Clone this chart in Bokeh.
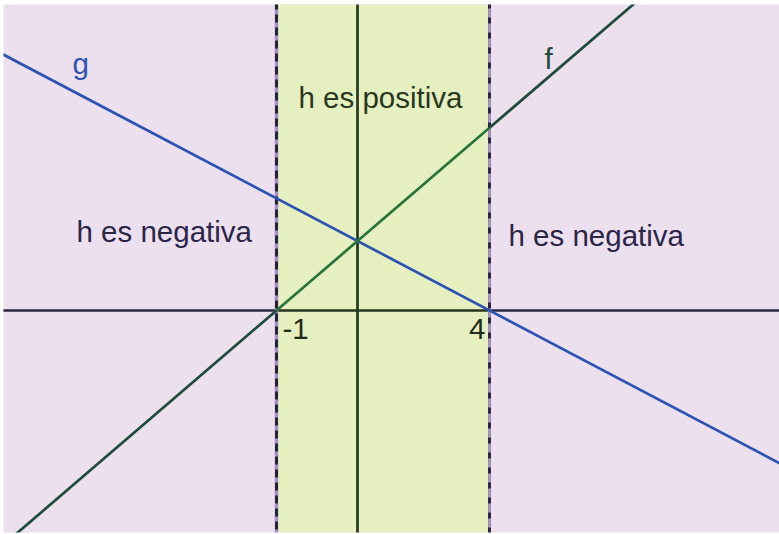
import numpy as np
from bokeh.plotting import figure
from bokeh.models import ColumnDataSource
from bokeh.core.properties import value
from bokeh.embed import file_html
from bokeh.resources import INLINE

# ---- data (sketch coordinates: origin at the axes crossing) ----
function_names = ["f", "g"]
root_labels = ["-1", "4"]          # where f and g cross zero
root_pos = [-81.0, 132.0]          # their positions on the (not to scale) sketch
cross_y = 69.5                     # height where f and g meet on the y axis
region_texts = ["h es negativa", "h es positiva", "h es negativa"]

X0, X1 = -354.0, 422.0
Y0, Y1 = -222.0, 306.0

PINK = "#ecdfee"
GREEN = "#e6efbf"

def f(x):
    return cross_y * (np.asarray(x) - root_pos[0]) / (0 - root_pos[0])

def g(x):
    return cross_y * (np.asarray(x) - root_pos[1]) / (0 - root_pos[1])

p = figure(width=779, height=534, x_range=(X0, X1), y_range=(Y0, Y1),
           output_backend="svg", toolbar_location=None,
           min_border_left=3, min_border_top=4, min_border_bottom=2, min_border_right=0)
p.axis.visible = False
p.grid.visible = False
p.outline_line_color = None
p.background_fill_color = PINK
p.border_fill_color = "white"

LW = 2.7

# positive band
p.quad(left=[root_pos[0]], right=[root_pos[1]], bottom=[Y0 - 50], top=[Y1 + 50],
       fill_color=GREEN, line_color=None)

# x axis (coloured by region)
p.line([X0 - 10, root_pos[0]], [0, 0], line_color="#2b2742", line_width=LW)
p.line([root_pos[0], root_pos[1]], [0, 0], line_color="#27351f", line_width=LW)
p.line([root_pos[1], X1 + 10], [0, 0], line_color="#2b2742", line_width=LW)
# y axis
p.line([0, 0], [Y0 - 10, Y1 + 10], line_color="#25381f", line_width=LW)

# dashed boundaries
p.line([root_pos[0]] * 2, [Y0 - 10, Y1 + 10], line_color="#a58ec6", line_width=3.5)
p.line([root_pos[0]] * 2, [Y0 - 10, Y1 + 10], line_color="#1c1a26", line_width=2.7,
       line_dash="8 5")
p.line([root_pos[1]] * 2, [Y0 - 10, Y1 + 10], line_color="#2b2742", line_width=3)
p.line([root_pos[1]] * 2, [Y0 - 10, Y1 + 10], line_color="#ad9cc6", line_width=2.7,
       line_dash="9 6")

# g (blue)
gx = np.array([X0 - 10, X1 + 10])
p.line(gx, g(gx), line_color="#2c52b2", line_width=LW)

# f (green): darker outside the band
fx_lo = np.array([X0 - 10, root_pos[0]])
fx_mid = np.array([root_pos[0], root_pos[1]])
fx_hi = np.array([root_pos[1], X1 + 10])
p.line(fx_lo, f(fx_lo), line_color="#1f4b3b", line_width=LW)
p.line(fx_mid, f(fx_mid), line_color="#2b733c", line_width=LW)
p.line(fx_hi, f(fx_hi), line_color="#1f4b38", line_width=LW)

FONT = value("Liberation Sans")
FS = value("29.5px")

# region labels
reg_src = ColumnDataSource(dict(x=[-281, -59, 151], y=[79, 213, 75], t=region_texts,
                                c=["#2a2646", "#28381f", "#2a2646"]))
p.text(x="x", y="y", text="t", text_color="c", source=reg_src, text_font=FONT,
       text_font_size=FS, text_align="left", text_baseline="alphabetic")

# function names
fn_src = ColumnDataSource(dict(x=[187, -285], y=[252, 247], t=function_names,
                               c=["#1f4b38", "#2c52b2"]))
p.text(x="x", y="y", text="t", text_color="c", source=fn_src, text_font=FONT,
       text_font_size=FS, text_align="left", text_baseline="alphabetic")

# root labels
p.text(x=[root_pos[0] + 6], y=[-18], text=[root_labels[0]], text_color="#1f2b18",
       text_font=FONT, text_font_size=FS, text_align="left", text_baseline="alphabetic")
p.text(x=[root_pos[1] - 4], y=[-18], text=[root_labels[1]], text_color="#1f2b18",
       text_font=FONT, text_font_size=FS, text_align="right", text_baseline="alphabetic")

open("out.html", "w").write(file_html(p, INLINE))
